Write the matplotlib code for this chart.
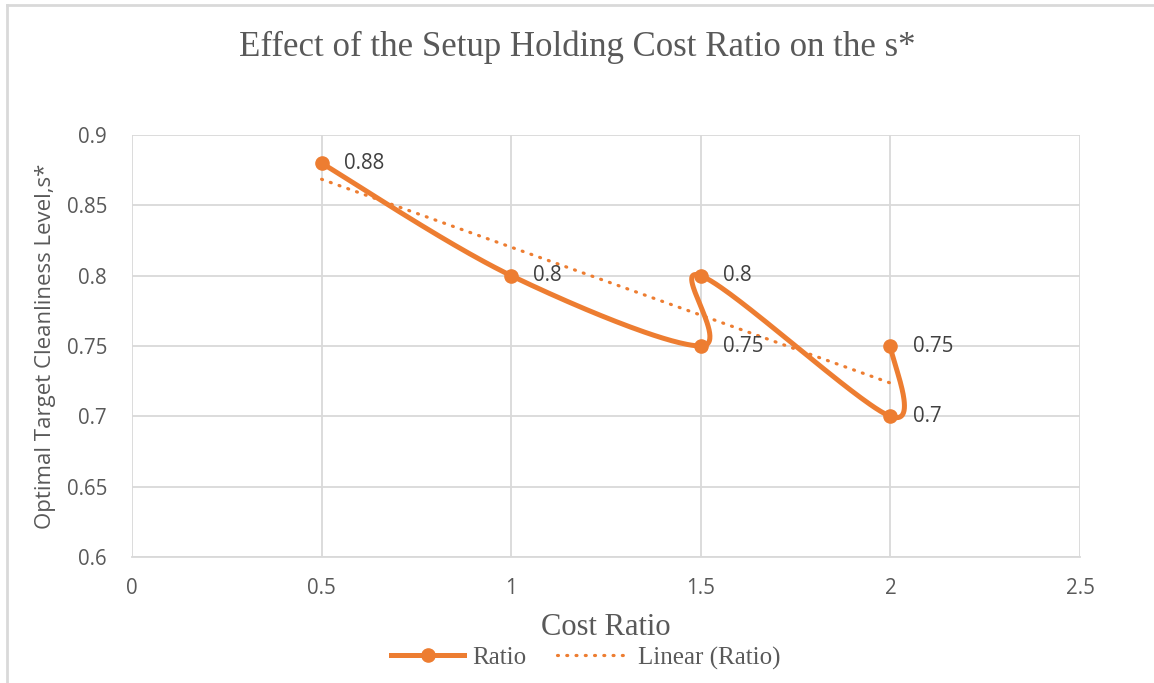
import numpy as np
import matplotlib
matplotlib.use("Agg")
import matplotlib.pyplot as plt
from matplotlib.lines import Line2D

# data
cost_ratio = [0.5, 1.0, 1.5, 1.5, 2.0, 2.0]
s_star = [0.88, 0.80, 0.75, 0.80, 0.70, 0.75]
point_labels = ["0.88", "0.8", "0.75", "0.8", "0.7", "0.75"]
x_ticks = [0, 0.5, 1, 1.5, 2, 2.5]
y_ticks = [0.6, 0.65, 0.7, 0.75, 0.8, 0.85, 0.9]

orange = "#ED7D31"
grid_c = "#D9D9D9"
text_c = "#595959"
serif = ["Liberation Serif", "DejaVu Serif"]
sans = ["Open Sans", "DejaVu Sans"]
dotted = (0, (0.3, 2.6))

fig = plt.figure(figsize=(11.54, 6.83), dpi=100)
ax = fig.add_axes([132 / 1154, 1 - 557 / 683, 948 / 1154, 422 / 683])
ax.set_xlim(0, 2.5)
ax.set_ylim(0.6, 0.9)


def excel_smooth(xs, ys, n=60):
    # Excel style smoothed line: cubic bezier, control points at 1/6 of the
    # neighbour chord, worked out in screen space
    pts = ax.transData.transform(np.column_stack([xs, ys]))
    out = []
    m = len(pts)
    for i in range(m - 1):
        p0 = pts[max(i - 1, 0)]
        p1 = pts[i]
        p2 = pts[i + 1]
        p3 = pts[min(i + 2, m - 1)]
        c1 = p1 + (p2 - p0) / 6
        c2 = p2 - (p3 - p1) / 6
        t = np.linspace(0, 1, n)[:, None]
        seg = ((1 - t) ** 3) * p1 + 3 * ((1 - t) ** 2) * t * c1 \
            + 3 * (1 - t) * t ** 2 * c2 + t ** 3 * p2
        out.append(seg if i == 0 else seg[1:])
    return ax.transData.inverted().transform(np.vstack(out))


curve = excel_smooth(cost_ratio, s_star)
ax.plot(curve[:, 0], curve[:, 1], color=orange, lw=3.6, solid_capstyle="round",
        zorder=3)
ax.plot(cost_ratio, s_star, "o", color=orange, ms=9.5, zorder=4)

# linear trendline
k, b = np.polyfit(cost_ratio, s_star, 1)
tx = np.array([min(cost_ratio), max(cost_ratio)])
ax.plot(tx, k * tx + b, color=orange, lw=2.3, ls=dotted,
        dash_capstyle="round", zorder=2)

for x, y, lab in zip(cost_ratio, s_star, point_labels):
    ax.annotate(lab, (x, y), xytext=(16, 0), textcoords="offset points",
                ha="left", va="center", fontsize=14.8, family=sans,
                color="#404040")

ax.set_xticks(x_ticks)
ax.set_xticklabels(["0", "0.5", "1", "1.5", "2", "2.5"])
ax.set_yticks(y_ticks)
ax.set_yticklabels(["0.6", "0.65", "0.7", "0.75", "0.8", "0.85", "0.9"])
ax.grid(True, color=grid_c, lw=1.3)
ax.set_axisbelow(True)
for s in ["top", "right", "left"]:
    ax.spines[s].set_visible(False)
ax.spines["bottom"].set_color(grid_c)
ax.spines["bottom"].set_linewidth(1.3)
ax.tick_params(axis="x", length=0, pad=15, labelsize=14.8, labelcolor=text_c)
ax.tick_params(axis="y", length=0, pad=18, labelsize=14.8, labelcolor=text_c)
for lab in ax.get_xticklabels() + ax.get_yticklabels():
    lab.set_family(sans)

ax.set_ylabel("Optimal Target Cleanliness Level,s*", fontsize=16,
              family=sans, color=text_c, labelpad=8)
ax.set_xlabel("Cost Ratio", fontsize=22, family=serif, color=text_c,
              labelpad=10)
fig.text(0.5, 1 - 47 / 683, "Effect of the Setup Holding Cost Ratio on the s*",
         ha="center", va="center", fontsize=25, family=serif, color=text_c)

handles = [
    Line2D([], [], color=orange, lw=3.6, marker="o", ms=9.5),
    Line2D([], [], color=orange, lw=2.3, ls=dotted, dash_capstyle="round"),
]
fig.legend(handles, ["Ratio", "Linear (Ratio)"], loc="center",
           bbox_to_anchor=(586 / 1154, 1 - 658 / 683), ncol=2, frameon=False,
           prop={"family": serif, "size": 18}, labelcolor=text_c,
           handlelength=2.9, handletextpad=0.35, columnspacing=1.2)

# outer chart frame
fig.add_artist(Line2D([7 / 1154, 7 / 1154], [0, 1 - 5 / 683],
                      transform=fig.transFigure, color=grid_c, lw=2))
fig.add_artist(Line2D([7 / 1154, 1], [1 - 5 / 683, 1 - 5 / 683],
                      transform=fig.transFigure, color=grid_c, lw=2))

fig.savefig("out.png", dpi=100)
